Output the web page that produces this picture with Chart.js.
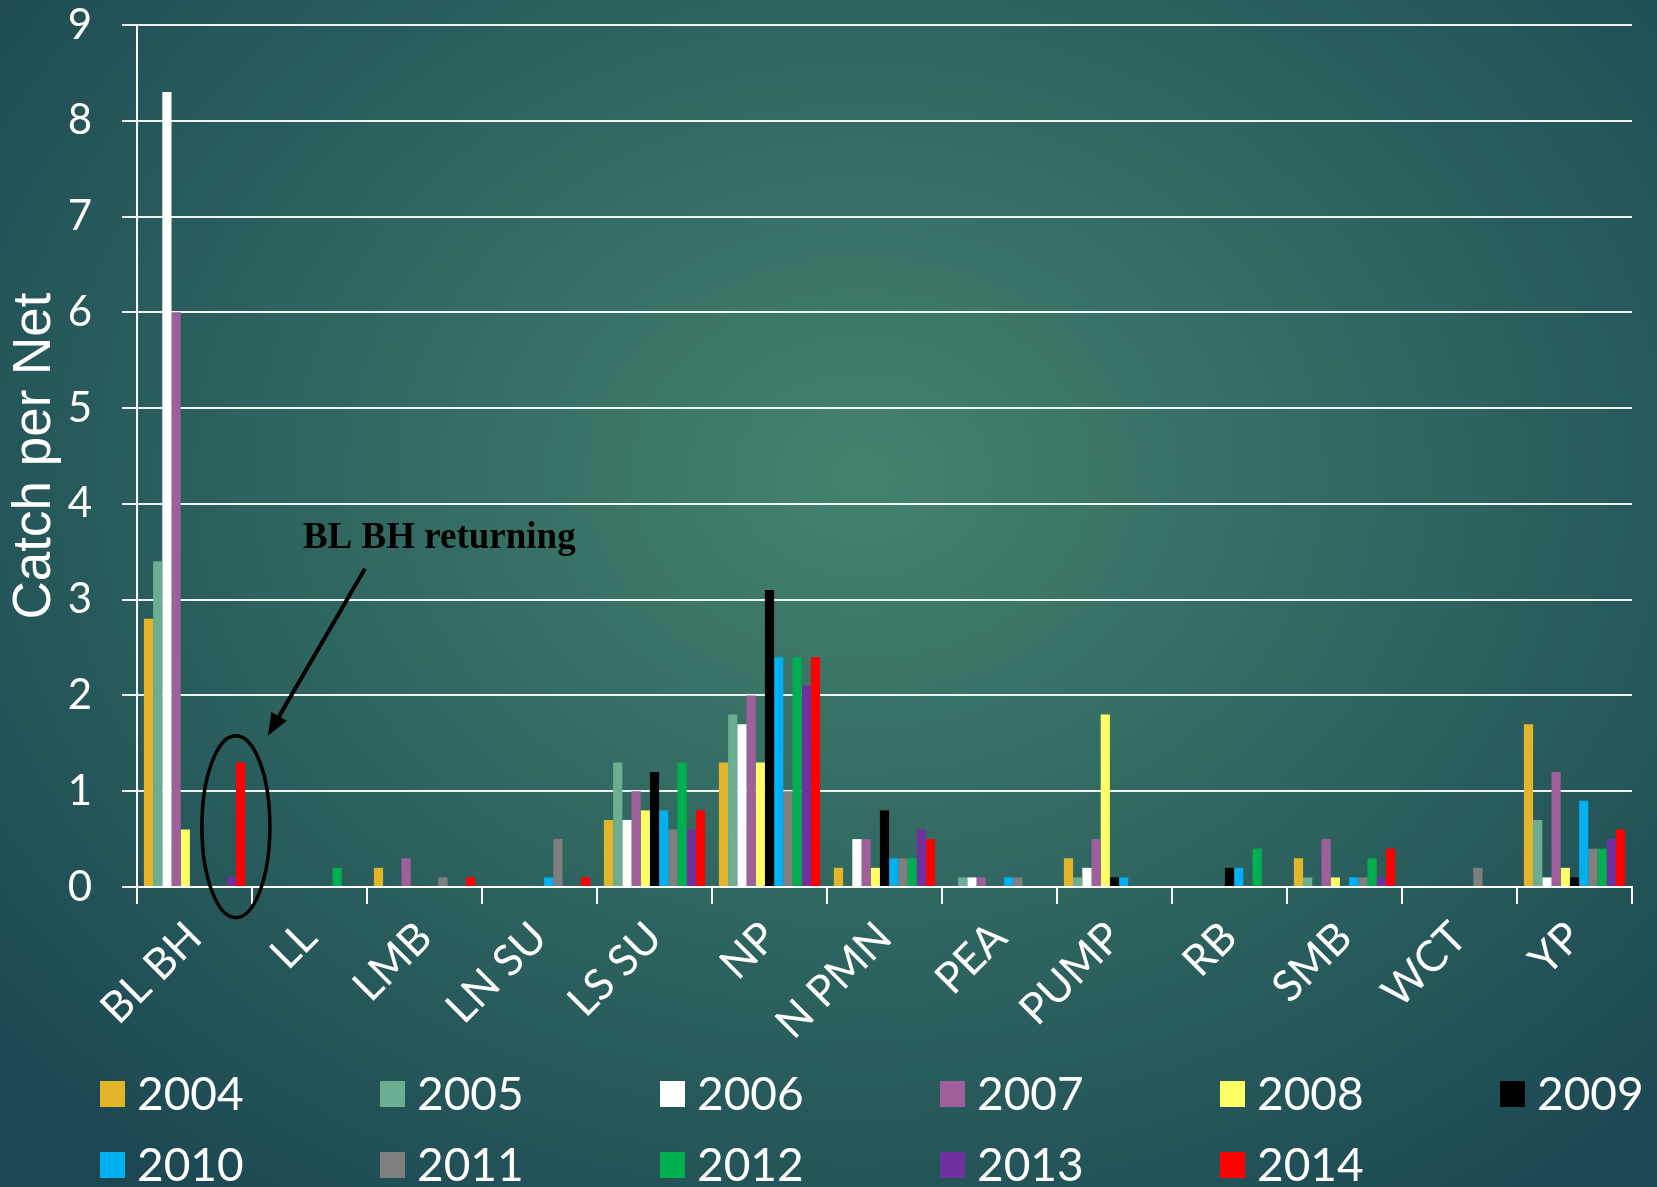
<!DOCTYPE html>
<html>
<head>
<meta charset="utf-8">
<title>Catch per Net</title>
<script src="https://cdn.jsdelivr.net/npm/chart.js@4.4.1/dist/chart.umd.min.js"></script>
<style>
  html, body { margin: 0; padding: 0; }
  body {
    width: 1657px; height: 1187px; overflow: hidden;
    background: radial-gradient(ellipse 70% 78% at 52% 40%, #44826f 0%, #2f6660 48%, #1b4652 100%);
  }
</style>
</head>
<body>
<canvas id="catchChart" width="1657" height="1187"></canvas>
<script>
// ===============================
// DATA
// ===============================
const species = ["BL BH", "LL", "LMB", "LN SU", "LS SU", "NP", "N PMN", "PEA", "PUMP", "RB", "SMB", "WCT", "YP"];
const years = ["2004", "2005", "2006", "2007", "2008", "2009", "2010", "2011", "2012", "2013", "2014"];
const yearColors = ["#e3b52a", "#6bae92", "#ffffff", "#9e5f9b", "#ffff66", "#000000", "#00b0f0", "#7f7f7f", "#00b050", "#7030a0", "#ff0000"];
const yTicks = [0, 1, 2, 3, 4, 5, 6, 7, 8, 9];

// catch per net, one array per year, in species order
const y2004 = [2.8, 0, 0.2, 0, 0.7, 1.3, 0.2, 0, 0.3, 0, 0.3, 0, 1.7];
const y2005 = [3.4, 0, 0, 0, 1.3, 1.8, 0, 0.1, 0.1, 0, 0.1, 0, 0.7];
const y2006 = [8.3, 0, 0, 0, 0.7, 1.7, 0.5, 0.1, 0.2, 0, 0, 0, 0.1];
const y2007 = [6.0, 0, 0.3, 0, 1.0, 2.0, 0.5, 0.1, 0.5, 0, 0.5, 0, 1.2];
const y2008 = [0.6, 0, 0, 0, 0.8, 1.3, 0.2, 0, 1.8, 0, 0.1, 0, 0.2];
const y2009 = [0, 0, 0, 0, 1.2, 3.1, 0.8, 0, 0.1, 0.2, 0, 0, 0.1];
const y2010 = [0, 0, 0, 0.1, 0.8, 2.4, 0.3, 0.1, 0.1, 0.2, 0.1, 0, 0.9];
const y2011 = [0, 0, 0.1, 0.5, 0.6, 1.0, 0.3, 0.1, 0, 0, 0.1, 0.2, 0.4];
const y2012 = [0, 0.2, 0, 0, 1.3, 2.4, 0.3, 0, 0, 0.4, 0.3, 0, 0.4];
const y2013 = [0.1, 0, 0, 0, 0.6, 2.1, 0.6, 0, 0, 0, 0.1, 0, 0.5];
const y2014 = [1.3, 0, 0.1, 0.1, 0.8, 2.4, 0.5, 0, 0, 0, 0.4, 0, 0.6];

const yearValues = [y2004, y2005, y2006, y2007, y2008, y2009, y2010, y2011, y2012, y2013, y2014];

const labelFont = "Lato, 'Open Sans', sans-serif";

// ===============================
// LEGEND (two rows, fixed columns)
// ===============================
const gridLegend = {
  id: "gridLegend",
  afterDraw(chart) {
    const ctx = chart.ctx;
    ctx.save();
    ctx.font = "46px " + labelFont;
    ctx.textBaseline = "middle";
    ctx.textAlign = "left";
    chart.data.datasets.forEach((ds, i) => {
      const col = i % 6;
      const row = Math.floor(i / 6);
      const bx = 100 + col * 280;
      const by = 1081 + row * 71;
      ctx.fillStyle = ds.backgroundColor;
      ctx.fillRect(bx, by, 25, 26);
      ctx.fillStyle = "#ffffff";
      ctx.fillText(ds.label, bx + 37, by + 14);
    });
    ctx.restore();
  }
};

// ===============================
// "BL BH returning" callout
// ===============================
const callout = {
  id: "callout",
  afterDatasetsDraw(chart) {
    const ctx = chart.ctx;
    const y = chart.scales.y;
    const b13 = chart.getDatasetMeta(9).data[0];
    const b14 = chart.getDatasetMeta(10).data[0];
    const cx = (b13.x + b14.x) / 2;
    const cy = y.getPixelForValue(0.63);

    ctx.save();
    ctx.strokeStyle = "#000";
    ctx.fillStyle = "#000";

    // ellipse round the 2013/2014 bars
    ctx.lineWidth = 3.5;
    ctx.beginPath();
    ctx.ellipse(cx, cy, 34, 91, 0, 0, Math.PI * 2);
    ctx.stroke();

    // arrow
    const sx = cx + 129, sy = cy - 258;
    const tx = cx + 32, ty = cy - 91;
    const ang = Math.atan2(ty - sy, tx - sx);
    const head = 24;
    ctx.lineWidth = 4;
    ctx.beginPath();
    ctx.moveTo(sx, sy);
    ctx.lineTo(tx - Math.cos(ang) * head * 0.8, ty - Math.sin(ang) * head * 0.8);
    ctx.stroke();
    ctx.beginPath();
    ctx.moveTo(tx, ty);
    ctx.lineTo(tx - head * Math.cos(ang - 0.38), ty - head * Math.sin(ang - 0.38));
    ctx.lineTo(tx - head * Math.cos(ang + 0.38), ty - head * Math.sin(ang + 0.38));
    ctx.closePath();
    ctx.fill();

    // label
    ctx.font = "bold 37px 'Liberation Serif', 'Times New Roman', serif";
    ctx.textAlign = "left";
    ctx.textBaseline = "alphabetic";
    ctx.fillText("BL BH returning", cx + 67, cy - 279);
    ctx.restore();
  }
};

// ===============================
// CHART
// ===============================
const ctx = document.getElementById("catchChart").getContext("2d");

new Chart(ctx, {
  type: "bar",
  data: {
    labels: species,
    datasets: years.map((yr, i) => ({
      label: yr,
      data: yearValues[i],
      backgroundColor: yearColors[i],
      borderWidth: 0
    }))
  },
  options: {
    responsive: false,
    animation: false,
    layout: { padding: { top: 25, right: 25, left: 0, bottom: 0 } },
    datasets: { bar: { categoryPercentage: 0.88, barPercentage: 1 } },
    plugins: {
      legend: { display: false },
      tooltip: { enabled: false }
    },
    scales: {
      x: {
        grid: { offset: true, drawOnChartArea: false, drawTicks: true, tickLength: 17, color: "#ffffff", lineWidth: 2 },
        border: { color: "#ffffff", width: 2 },
        ticks: {
          color: "#ffffff",
          font: { family: labelFont, size: 43 },
          minRotation: 45,
          maxRotation: 45,
          autoSkip: false,
          padding: 8
        },
        afterFit: (scale) => { scale.height = 300; }
      },
      y: {
        min: 0,
        max: 9,
        afterBuildTicks: (scale) => { scale.ticks = yTicks.map(v => ({ value: v })); },
        ticks: { color: "#ffffff", font: { family: labelFont, size: 42 }, padding: 30 },
        grid: { color: "rgba(255,255,255,0.92)", lineWidth: 2, tickLength: 15 },
        border: { color: "#ffffff", width: 2 },
        title: {
          display: true,
          text: "Catch per Net",
          color: "#ffffff",
          font: { family: "'Liberation Sans', Arial, sans-serif", size: 53 }
        },
        afterFit: (scale) => {
          scale.width = 137;
          scale.paddingTop = 0;
          scale.paddingBottom = 0;
        }
      }
    }
  },
  plugins: [callout, gridLegend]
});
</script>
</body>
</html>
